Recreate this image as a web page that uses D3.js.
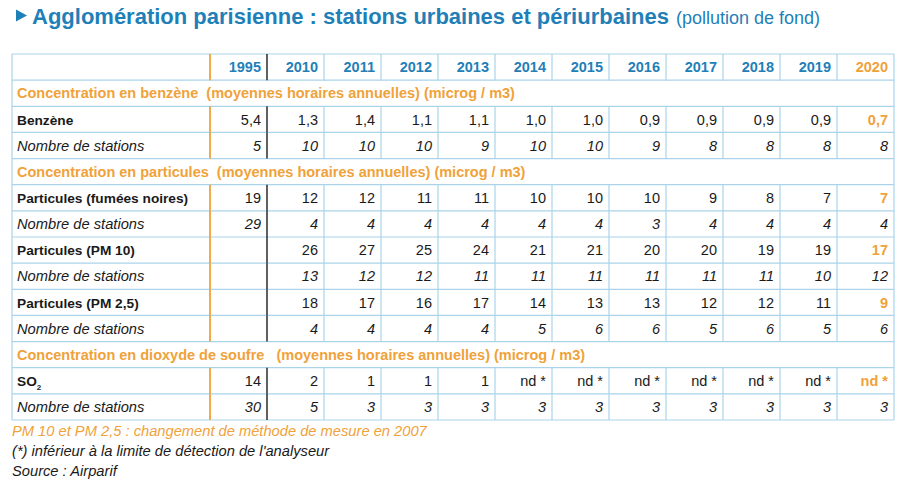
<!DOCTYPE html>
<html><head><meta charset="utf-8">
<script src="https://cdn.jsdelivr.net/npm/d3@7"></script>
<style>
html,body{margin:0;padding:0;background:#fff;}
svg{display:block;font-family:"Liberation Sans",Arial,Helvetica,sans-serif;}
</style></head>
<body>
<svg id="c" width="912" height="486"></svg>
<script>
const years = ["1995","2010","2011","2012","2013","2014","2015","2016","2017","2018","2019","2020"];
const benzene = ["5,4","1,3","1,4","1,1","1,1","1,0","1,0","0,9","0,9","0,9","0,9","0,7"];
const benzeneStations = ["5","10","10","10","9","10","10","9","8","8","8","8"];
const fumees = ["19","12","12","11","11","10","10","10","9","8","7","7"];
const fumeesStations = ["29","4","4","4","4","4","4","3","4","4","4","4"];
const pm10 = ["","26","27","25","24","21","21","20","20","19","19","17"];
const pm10Stations = ["","13","12","12","11","11","11","11","11","11","10","12"];
const pm25 = ["","18","17","16","17","14","13","13","12","12","11","9"];
const pm25Stations = ["","4","4","4","4","5","6","6","5","6","5","6"];
const so2 = ["14","2","1","1","1","nd *","nd *","nd *","nd *","nd *","nd *","nd *"];
const so2Stations = ["30","5","3","3","3","3","3","3","3","3","3","3"];

const rows = [
  {type:"header"},
  {type:"section", label:"Concentration en benzène  (moyennes horaires annuelles) (microg / m3)"},
  {type:"value", label:"Benzène", values:benzene},
  {type:"count", label:"Nombre de stations", values:benzeneStations},
  {type:"section", label:"Concentration en particules  (moyennes horaires annuelles) (microg / m3)"},
  {type:"value", label:"Particules (fumées noires)", values:fumees},
  {type:"count", label:"Nombre de stations", values:fumeesStations},
  {type:"value", label:"Particules (PM 10)", values:pm10},
  {type:"count", label:"Nombre de stations", values:pm10Stations},
  {type:"value", label:"Particules (PM 2,5)", values:pm25},
  {type:"count", label:"Nombre de stations", values:pm25Stations},
  {type:"section", label:"Concentration en dioxyde de soufre   (moyennes horaires annuelles) (microg / m3)"},
  {type:"value", label:"SO", sub:"2", values:so2},
  {type:"count", label:"Nombre de stations", values:so2Stations}
];

const BLUE = "#1f80b8", ORANGE = "#f0a23a", GRID = "#aad4ea", DARK = "#2b2b2b";
const svg = d3.select("#c");

// Title
svg.append("path").attr("d","M16,9.5 L27,15.5 L16,21.5 Z").attr("fill",BLUE);
const title = svg.append("text").attr("x",32).attr("y",24).attr("fill",BLUE);
title.append("tspan").attr("font-weight","bold").attr("font-size","22px")
  .text("Agglomération parisienne : stations urbaines et périurbaines");
title.append("tspan").attr("font-size","18px").attr("dx","7").text("(pollution de fond)");

const tLeft = 12, labelRight = 210, tRight = 894, tTop = 54, tBottom = 420;
const x = d3.scaleBand().domain(years).range([labelRight, tRight]);
const y = d3.scaleBand().domain(d3.range(rows.length)).range([tTop, tBottom]);
const rh = y.bandwidth();

const g = svg.append("g");
g.selectAll("line.h").data(d3.range(rows.length + 1)).join("line")
  .attr("x1", tLeft).attr("x2", tRight)
  .attr("y1", i => i < rows.length ? y(i) : tBottom)
  .attr("y2", i => i < rows.length ? y(i) : tBottom)
  .attr("stroke", GRID).attr("stroke-width", 1.2);
[tLeft, tRight].forEach(xx => g.append("line").attr("x1",xx).attr("x2",xx).attr("y1",tTop).attr("y2",tBottom).attr("stroke",GRID).attr("stroke-width",1.2));

rows.forEach((r, i) => {
  const y0 = y(i), yc = y0 + rh / 2;
  if (r.type === "section") {
    g.append("text").attr("x", 17).attr("y", yc + 5.2).attr("fill", ORANGE)
      .attr("font-weight","bold").attr("font-size","14.5px").style("white-space","pre")
      .text(r.label);
    return;
  }
  years.forEach((yr, j) => {
    if (j === 0) return;
    g.append("line").attr("x1", x(yr)).attr("x2", x(yr)).attr("y1", y0).attr("y2", y0 + rh)
      .attr("stroke", j === 1 ? DARK : GRID).attr("stroke-width", j === 1 ? 1.5 : 1.2);
  });
  g.append("line").attr("x1", labelRight).attr("x2", labelRight).attr("y1", y0).attr("y2", y0 + rh)
    .attr("stroke", ORANGE).attr("stroke-width", 1.8);

  if (r.type === "header") {
    g.selectAll(null).data(years).join("text")
      .attr("x", d => x(d) + x.bandwidth() - 6).attr("y", yc + 5.2)
      .attr("text-anchor","end").attr("font-weight","bold").attr("font-size","14.5px")
      .attr("fill", (d, j) => j === years.length - 1 ? ORANGE : BLUE).text(d => d);
    return;
  }
  const lab = g.append("text").attr("x", 17).attr("y", yc + 5.2).attr("fill", "#1a1a1a")
    .attr("font-size", r.type === "value" ? "13.7px" : "14.7px")
    .attr("font-weight", r.type === "value" ? "bold" : "normal")
    .attr("font-style", r.type === "count" ? "italic" : "normal");
  lab.append("tspan").text(r.label);
  if (r.sub) lab.append("tspan").attr("font-size","8px").attr("dy","4").text(r.sub);

  g.selectAll(null).data(r.values).join("text")
    .attr("x", (d, j) => x(years[j]) + x.bandwidth() - 6).attr("y", yc + 5.2)
    .attr("text-anchor","end").attr("font-size","14.5px")
    .attr("font-style", r.type === "count" ? "italic" : "normal")
    .attr("font-weight", (d, j) => (r.type === "value" && j === years.length - 1) ? "bold" : "normal")
    .attr("fill", (d, j) => (r.type === "value" && j === years.length - 1) ? ORANGE : "#1a1a1a")
    .text(d => d);
});

const notes = [
  {t:"PM 10 et PM 2,5 : changement de méthode de mesure en 2007", c:ORANGE, y:436},
  {t:"(*) inférieur à la limite de détection de l'analyseur", c:"#1a1a1a", y:456},
  {t:"Source : Airparif", c:"#1a1a1a", y:476}
];
svg.selectAll("text.note").data(notes).join("text").attr("class","note")
  .attr("x", 12).attr("y", d => d.y).attr("fill", d => d.c)
  .attr("font-style","italic").attr("font-size","14.7px").text(d => d.t);
</script>
</body></html>
